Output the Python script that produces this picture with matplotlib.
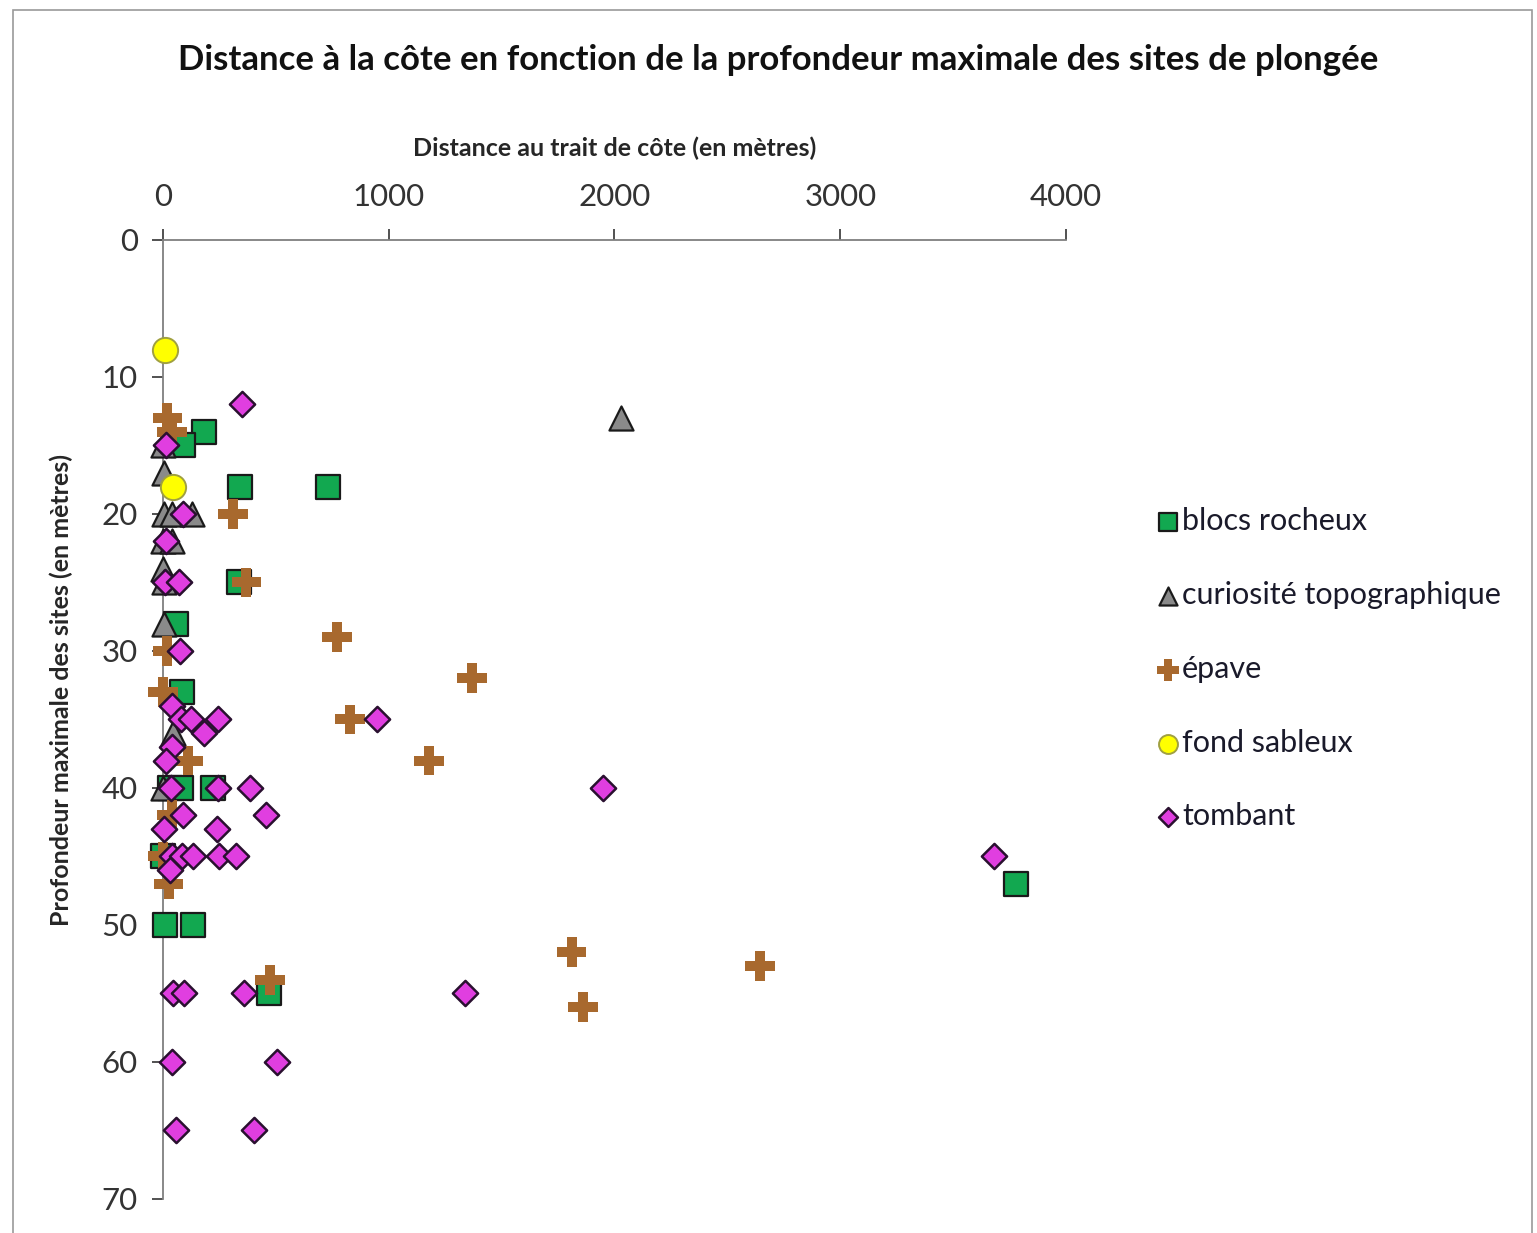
import matplotlib.pyplot as plt
from matplotlib.patches import Rectangle

# Data (distance to coast in m, max depth in m)
blocs_x = [180, 90, 340, 730, 335, 60, 85, 30, 80, 220, 0, 3780, 10, 135, 470]
blocs_y = [14, 15, 18, 18, 25, 28, 33, 40, 40, 40, 45, 47, 50, 50, 55]

curio_x = [2030, 0, 5, 5, 40, 130, 0, 40, 0, 5, 5, 45, 0]
curio_y = [13, 15, 17, 20, 20, 20, 22, 22, 24, 25, 28, 36, 40]

epave_x = [20, 40, 310, 370, 770, 20, 1370, 0, 830, 1180, 110, 40, 0, 25,
           1810, 2645, 475, 1860]
epave_y = [13, 14, 20, 25, 29, 30, 32, 33, 35, 38, 38, 42, 45, 47,
           52, 53, 54, 56]

sable_x = [10, 45]
sable_y = [8, 18]

tombant_x = [350, 15, 90, 15, 10, 70, 75, 40, 80, 125, 245, 950, 180, 40, 15,
             35, 245, 385, 1950, 90, 455, 5, 240, 40, 85, 135, 250, 325, 3680,
             30, 45, 95, 360, 1340, 40, 505, 60, 405]
tombant_y = [12, 15, 20, 22, 25, 25, 30, 34, 35, 35, 35, 35, 36, 37, 38,
             40, 40, 40, 40, 42, 42, 43, 43, 45, 45, 45, 45, 45, 45,
             46, 55, 55, 55, 55, 60, 60, 65, 65]

FONT = ["Lato", "DejaVu Sans"]
plt.rcParams["font.family"] = FONT

fig = plt.figure(figsize=(15.37, 12.33), dpi=100)
ax = fig.add_axes([0.106, 0.0276, 0.5876, 0.7778])

ax.scatter(blocs_x, blocs_y, s=320, marker="s", c="#12a850", edgecolors="#1a1a1a",
           linewidths=1.6, label="blocs rocheux", zorder=3)
ax.scatter(curio_x, curio_y, s=300, marker="^", c="#8a8a8a", edgecolors="#1a1a1a",
           linewidths=1.6, label="curiosité topographique", zorder=3)
ax.scatter(epave_x, epave_y, s=460, marker="P", c="#a8692e", edgecolors="none",
           label="épave", zorder=3)
ax.scatter(sable_x, sable_y, s=330, marker="o", c="#ffff00", edgecolors="#a0a040",
           linewidths=1.4, label="fond sableux", zorder=3)
ax.scatter(tombant_x, tombant_y, s=165, marker="D", c="#e03ee0", edgecolors="#2a1030",
           linewidths=1.8, label="tombant", zorder=3)

ax.set_xlim(0, 4000)
ax.set_ylim(70, 0)
ax.set_xticks([0, 1000, 2000, 3000, 4000])
ax.set_yticks(range(0, 71, 10))
ax.xaxis.tick_top()
ax.xaxis.set_label_position("top")
ax.tick_params(axis="both", direction="out", length=8, width=1.2,
               colors="#333333", labelsize=22.5)
ax.tick_params(axis="x", pad=13)
ax.tick_params(axis="y", pad=10)
for side in ["right", "bottom"]:
    ax.spines[side].set_visible(False)
for side in ["top", "left"]:
    ax.spines[side].set_color("#7f7f7f")
    ax.spines[side].set_linewidth(1.3)
for c in ax.collections:
    c.set_clip_on(False)

ax.set_xlabel("Distance au trait de côte (en mètres)", fontsize=18,
              fontweight="bold", color="#262626", labelpad=19)
fig.text(0.040, 0.44, "Profondeur maximale des sites (en mètres)", rotation=90,
         fontsize=18, fontweight="bold", color="#262626", ha="center", va="center")

fig.text(0.506, 0.951, "Distance à la côte en fonction de la profondeur maximale des sites de plongée",
         fontsize=25, fontweight="bold", color="#111111", ha="center", va="center")

fig.legend(loc="upper left", bbox_to_anchor=(0.733, 0.611), frameon=False,
           fontsize=22, labelspacing=1.5, handletextpad=0.02, handlelength=0.9,
           markerscale=0.75, labelcolor="#1a1a2a")

fig.patches.append(Rectangle((0.0085, -0.01), 0.988, 1.002, transform=fig.transFigure,
                             fill=False, edgecolor="#9a9a9a", linewidth=1.2))

fig.savefig("out.png", dpi=100)
